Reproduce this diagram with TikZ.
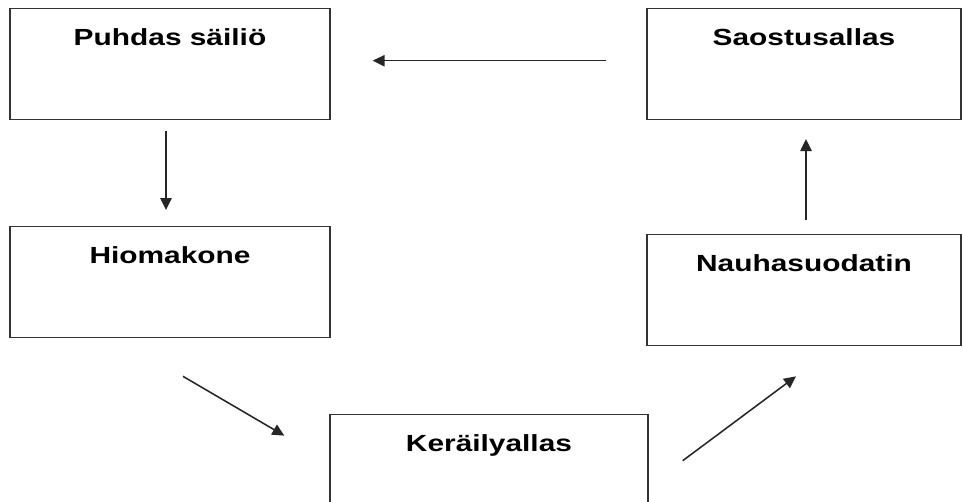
\documentclass[tikz,border=0pt]{standalone}
\usepackage{fontspec}
\setmainfont[FakeStretch=1.28]{Liberation Sans}
\usetikzlibrary{arrows.meta}
\tikzset{
  tank/.style={draw=black!80,line width=1pt,inner sep=0pt,anchor=north,
    text height=27.75pt,text depth=55.5pt,
    font=\fontsize{17.5}{20}\selectfont\bfseries},
  flow/.style={draw=black!85,line width=1.15pt,-{Triangle[length=9pt,width=8.5pt]}}
}
\begin{document}
\begin{tikzpicture}[x=0.75pt,y=-0.75pt]
 \clip (0,0) rectangle (963,501);
 \fill[white] (0,0) rectangle (963,501);
%% boxes
  \node[tank,minimum width=240pt] (puh) at (170,8) {Puhdas säiliö};
  \node[tank,minimum width=235.5pt] (sao) at (804,8) {Saostusallas};
  \node[tank,minimum width=240pt] (hio) at (170,226) {Hiomakone};
  \node[tank,minimum width=235.5pt] (nau) at (804,234) {Nauhasuodatin};
  \node[tank,minimum width=238.5pt] (ker) at (489,414) {Keräilyallas};
%% arrows
  \draw[flow] ([xshift=-30pt,yshift=2.6pt]sao.west) -- ([xshift=31.5pt,yshift=2.6pt]puh.east);
  \draw[flow] ([xshift=-3pt,yshift=-8pt]puh.south) -- ([xshift=-3pt,yshift=12pt]hio.north);
  \draw[flow] ([xshift=1.5pt,yshift=10.5pt]nau.north) -- ([xshift=1.5pt,yshift=-14pt]sao.south);
  \draw[flow] ([xshift=9.75pt,yshift=-28.5pt]hio.south) -- ([xshift=-33.75pt,yshift=25.9pt]ker.west);
  \draw[flow] ([xshift=25.5pt,yshift=7.1pt]ker.east) -- ([xshift=-6pt,yshift=-22.5pt]nau.south);
\end{tikzpicture}
\end{document}
